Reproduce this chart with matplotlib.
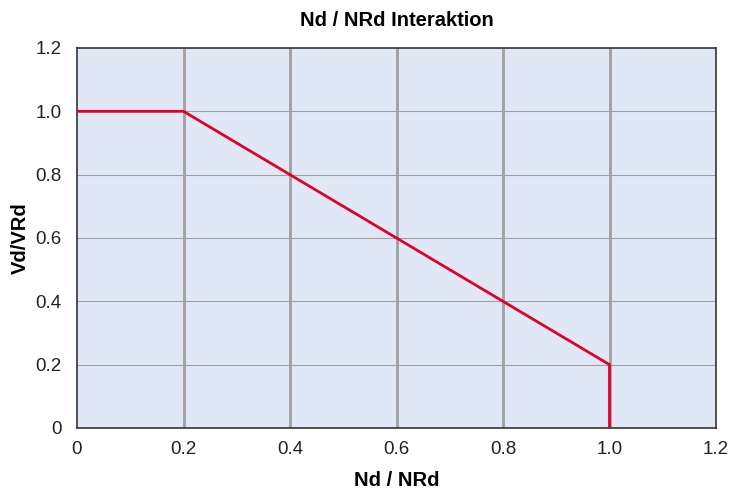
import matplotlib
matplotlib.use("Agg")
import matplotlib.pyplot as plt

x_vals = [0, 0.2, 1.0, 1.0]
y_vals = [1.0, 1.0, 0.2, 0.0]
ticks = [0, 0.2, 0.4, 0.6, 0.8, 1.0, 1.2]
tick_labels = ["0", "0.2", "0.4", "0.6", "0.8", "1.0", "1.2"]

plt.rcParams['font.family'] = ['Liberation Sans', 'DejaVu Sans']
fig = plt.figure(figsize=(7.5, 4.92), dpi=100)
ax = fig.add_axes([77/750, 1-428/492, (716-77)/750, (428-48)/492])
ax.set_facecolor('#e1e8f5')
ax.set_xlim(0, 1.2)
ax.set_ylim(0, 1.2)
for t in ticks[1:-1]:
    ax.axvline(t, color='#a0a0a0', lw=2.0, zorder=1)
    ax.axhline(t, color='#a0a0a0', lw=0.8, zorder=1)
ax.plot(x_vals, y_vals, color='#e0002b', lw=2.0, zorder=3, solid_joinstyle='miter')
ax.set_xticks(ticks)
ax.set_xticklabels(tick_labels)
ax.set_yticks(ticks)
ax.set_yticklabels(tick_labels)
ax.tick_params(length=0, labelsize=13.5, colors='#222222')
ax.tick_params(axis='x', pad=9)
ax.tick_params(axis='y', pad=11)
for s in ax.spines.values():
    s.set_color('#333333')
    s.set_linewidth(1.2)
ax.set_xlabel('Nd / NRd', fontsize=14.5, fontweight='bold', labelpad=10)
ax.set_ylabel('Vd/VRd', fontsize=14.5, fontweight='bold', labelpad=4)
ax.set_title('Nd / NRd Interaktion', fontsize=14.5, fontweight='bold', pad=16)
fig.savefig('out.png', dpi=100)
